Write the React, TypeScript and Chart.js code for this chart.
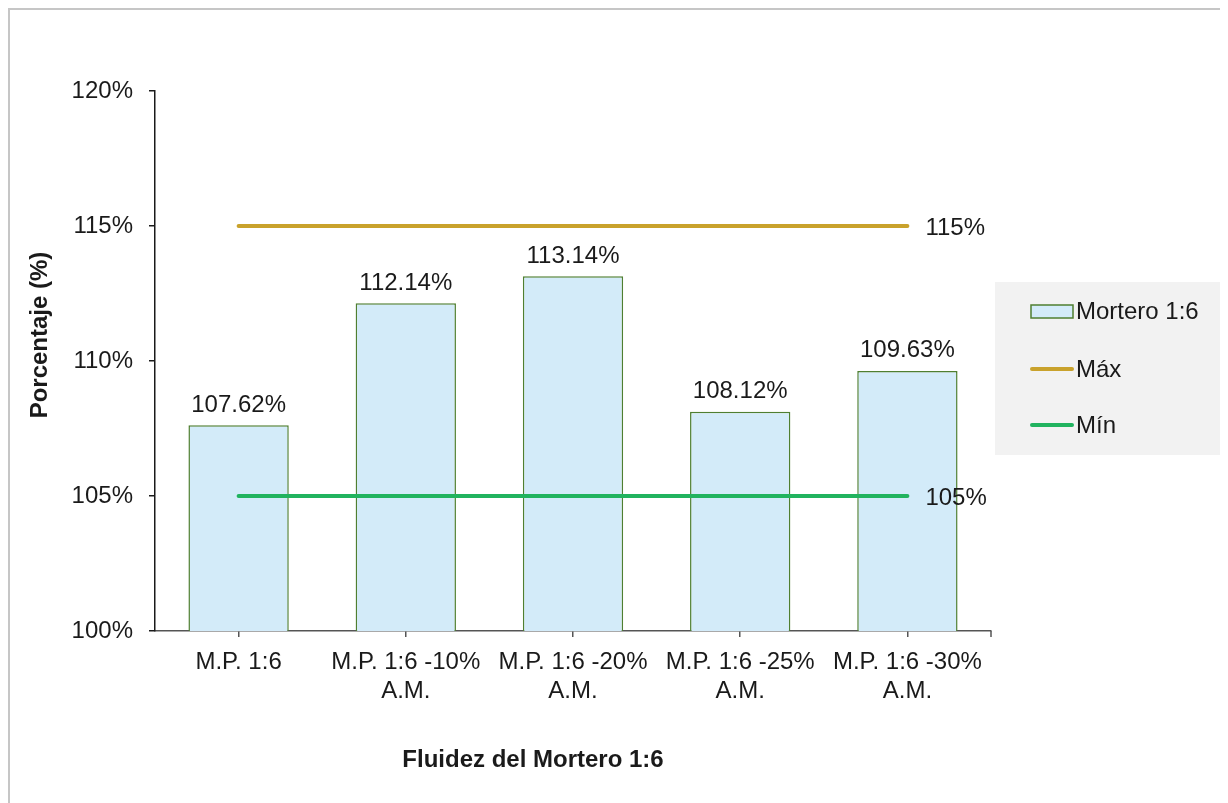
import React, { useEffect, useRef } from "react";
import { Chart, registerables } from "chart.js";

Chart.register(...registerables);

const categories: (string | string[])[] = [
  "M.P. 1:6",
  ["M.P. 1:6 -10%", "A.M."],
  ["M.P. 1:6 -20%", "A.M."],
  ["M.P. 1:6 -25%", "A.M."],
  ["M.P. 1:6 -30%", "A.M."],
];
const morteroValues = [107.62, 112.14, 113.14, 108.12, 109.63];
const maxValues = [115, 115, 115, 115, 115];
const minValues = [105, 105, 105, 105, 105];
const seriesNames = ["Mortero 1:6", "Máx", "Mín"];
const yTicks = [100, 105, 110, 115, 120];
const xTitle = "Fluidez del Mortero 1:6";
const yTitle = "Porcentaje (%)";

const FONT = "'Liberation Sans', Arial, sans-serif";
const TEXT = "#1a1a1a";
const BAR_FILL = "#D3EBF9";
const BAR_BORDER = "#4F7F31";
const MAX_COLOR = "#C9A22C";
const MIN_COLOR = "#21B35F";

const overlayPlugin = {
  id: "overlay",
  afterDatasetsDraw(chart: any) {
    const ctx = chart.ctx;
    const area = chart.chartArea;
    ctx.save();
    // data labels on bars
    const barMeta = chart.getDatasetMeta(0);
    ctx.font = `24px ${FONT}`;
    ctx.fillStyle = TEXT;
    ctx.textAlign = "center";
    ctx.textBaseline = "alphabetic";
    barMeta.data.forEach((el: any, i: number) => {
      ctx.fillText(morteroValues[i].toFixed(2) + "%", el.x, el.y - 13.5);
    });
    // line end labels
    ctx.textAlign = "left";
    [1, 2].forEach((di) => {
      const meta = chart.getDatasetMeta(di);
      const last = meta.data[meta.data.length - 1];
      const v = chart.data.datasets[di].data[meta.data.length - 1];
      ctx.fillText(v + "%", last.x + 18, last.y + 8.6);
    });
    // end tick on x axis
    ctx.strokeStyle = "#555";
    ctx.lineWidth = 1.5;
    ctx.beginPath();
    ctx.moveTo(area.right, area.bottom);
    ctx.lineTo(area.right, area.bottom + 6);
    ctx.stroke();
    ctx.restore();
  },
  afterDraw(chart: any) {
    const ctx = chart.ctx;
    ctx.save();
    // axis titles
    ctx.font = `bold 24px ${FONT}`;
    ctx.fillStyle = TEXT;
    ctx.textAlign = "center";
    ctx.textBaseline = "middle";
    ctx.fillText(xTitle, 523, 750);
    ctx.translate(30, 325);
    ctx.rotate(-Math.PI / 2);
    ctx.fillText(yTitle, 0, 0);
    ctx.restore();

    // legend
    ctx.save();
    ctx.fillStyle = "#F2F2F2";
    ctx.fillRect(985, 272, 240, 173);
    ctx.font = `24px ${FONT}`;
    ctx.fillStyle = TEXT;
    ctx.textAlign = "left";
    ctx.textBaseline = "middle";
    // bar swatch
    ctx.fillStyle = BAR_FILL;
    ctx.fillRect(1021, 295, 42, 13);
    ctx.strokeStyle = BAR_BORDER;
    ctx.lineWidth = 1.5;
    ctx.strokeRect(1021, 295, 42, 13);
    ctx.fillStyle = TEXT;
    ctx.fillText(seriesNames[0], 1066, 302);
    // lines
    const items: [string, string, number][] = [
      [seriesNames[1], MAX_COLOR, 359],
      [seriesNames[2], MIN_COLOR, 415],
    ];
    items.forEach(([name, color, y]) => {
      ctx.strokeStyle = color;
      ctx.lineWidth = 4;
      ctx.lineCap = "round";
      ctx.beginPath();
      ctx.moveTo(1022, y);
      ctx.lineTo(1062, y);
      ctx.stroke();
      ctx.fillStyle = TEXT;
      ctx.fillText(name, 1066, y + 1);
    });
    ctx.restore();
  },
};

export default function App() {
  const ref = useRef<HTMLCanvasElement>(null);
  useEffect(() => {
    if (!ref.current) return;
    const chart = new Chart(ref.current, {
      type: "bar",
      data: {
        labels: categories as any,
        datasets: [
          {
            type: "bar",
            label: seriesNames[0],
            data: morteroValues,
            backgroundColor: BAR_FILL,
            borderColor: BAR_BORDER,
            borderWidth: 1.5,
            barPercentage: 0.6,
            categoryPercentage: 1.0,
            order: 1,
          },
          {
            type: "line",
            label: seriesNames[1],
            data: maxValues,
            borderColor: MAX_COLOR,
            borderWidth: 4,
            borderCapStyle: "round",
            pointRadius: 0,
            order: 0,
          },
          {
            type: "line",
            label: seriesNames[2],
            data: minValues,
            borderColor: MIN_COLOR,
            borderWidth: 4,
            borderCapStyle: "round",
            pointRadius: 0,
            order: 0,
          },
        ] as any,
      },
      options: {
        animation: false,
        responsive: false,
        layout: { padding: { left: 0, top: 81, right: 237, bottom: 72 } },
        plugins: {
          legend: { display: false },
          tooltip: { enabled: false },
          title: { display: false },
        },
        scales: {
          x: {
            offset: true,
            grid: {
              offset: false,
              drawOnChartArea: false,
              drawTicks: true,
              tickLength: 6,
              color: "#555",
              lineWidth: 1.5,
            },
            border: { display: true, color: "#555", width: 1.5 },
            ticks: {
              color: TEXT,
              font: { family: FONT, size: 24, lineHeight: 1.2 },
              padding: 11,
              maxRotation: 0,
              autoSkip: false,
            },
            afterFit: (scale: any) => {
              scale.height = 100;
            },
          },
          y: {
            min: 100,
            max: 120,
            afterBuildTicks: (scale: any) => {
              scale.ticks = yTicks.map((v) => ({ value: v }));
            },
            grid: {
              drawOnChartArea: false,
              drawTicks: true,
              tickLength: 6,
              color: "#1a1a1a",
              lineWidth: 1.5,
            },
            border: { display: true, color: "#1a1a1a", width: 1.5 },
            ticks: {
              color: TEXT,
              font: { family: FONT, size: 24 },
              padding: 16,
              callback: (v: any) => v + "%",
            },
            afterFit: (scale: any) => {
              scale.width = 145;
            },
          },
        },
      } as any,
      plugins: [overlayPlugin],
    });
    return () => chart.destroy();
  }, []);

  return (
    <div
      style={{
        width: 1220,
        height: 795,
        boxSizing: "border-box",
        borderTop: "2px solid #C6C6C6",
        borderLeft: "2px solid #C6C6C6",
        overflow: "hidden",
        background: "#fff",
      }}
    >
      <canvas ref={ref} width={1218} height={793} style={{ display: "block" }} />
    </div>
  );
}
